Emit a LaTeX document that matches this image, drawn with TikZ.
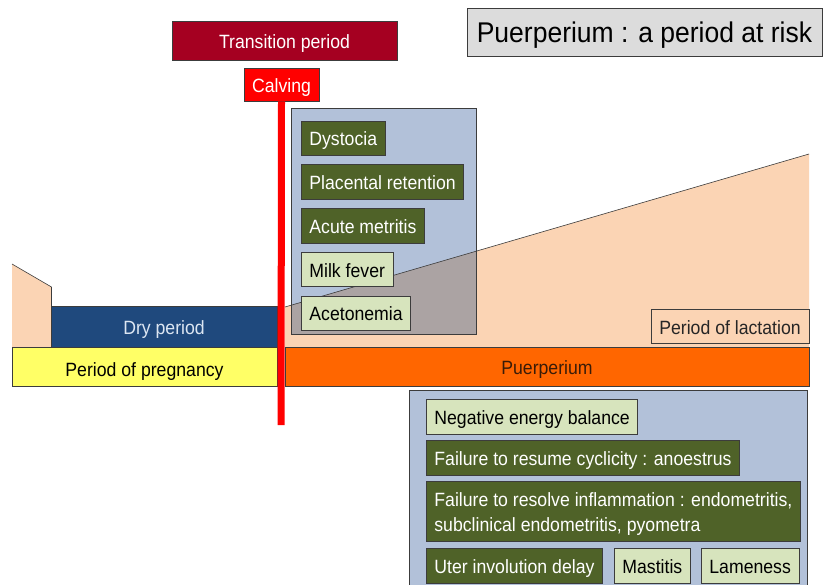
\documentclass[tikz,border=0pt]{standalone}
\usepackage{fontspec}
\setmainfont{Liberation Sans}[FakeStretch=0.92]
\newfontfamily\titlefont{Liberation Sans}[FakeStretch=0.93]
\usetikzlibrary{positioning}

\definecolor{transred}{HTML}{A50021}
\definecolor{calvred}{HTML}{FF0000}
\definecolor{titlegray}{HTML}{DCDCDC}
\definecolor{edgegray}{HTML}{3C3C3C}
\definecolor{riskblue}{HTML}{B2C1D9}
\definecolor{overlapgray}{HTML}{ABA3A3}
\definecolor{peach}{HTML}{FBD4B4}
\definecolor{drynavy}{HTML}{1F497D}
\definecolor{drytext}{HTML}{DCE6F2}
\definecolor{pregyellow}{HTML}{FFFF66}
\definecolor{puerorange}{HTML}{FF6600}
\definecolor{puertext}{HTML}{3A1C08}
\definecolor{darkolive}{HTML}{4F6228}
\definecolor{lightolive}{HTML}{D7E4BD}

\tikzset{
  band/.style={draw=edgegray, line width=0.8pt, inner sep=0pt, text height=15pt, text depth=0pt},
  riskdark/.style={draw=edgegray, line width=0.8pt, fill=darkolive, text=white,
    anchor=north west, minimum height=34.5pt, inner xsep=8pt, inner ysep=0pt,
    text height=15pt, text depth=0pt},
  risklight/.style={riskdark, fill=lightolive, text=black},
  panel/.style={draw=edgegray, line width=0.8pt, fill=riskblue}
}

\begin{document}
\begin{tikzpicture}[x=1pt, y=-1pt, font=\fontsize{19.2}{19}\selectfont]
\clip (0,0) rectangle (824,584);
\fill[white] (0,0) rectangle (824,584);

\coordinate (lacstart) at (285,307);
\coordinate (lacend) at (809,154);

\fill[peach] (12,264) -- (51.5,287) -- (51.5,347) -- (12,347) -- cycle;
\draw[edgegray, line width=0.6pt] (12,264) -- (51.5,287) -- (51.5,347);
\fill[peach] (lacstart) -- (lacend) -- (809,347) -- (285,347) -- cycle;
\draw[edgegray, line width=0.6pt] (lacstart) -- (lacend);

\draw[panel] (291.5,108.5) rectangle (476,334);
\begin{scope}
\clip (291.5,108.5) rectangle (476,334);
\fill[overlapgray] (lacstart) -- (lacend) -- (809,347) -- (285,347) -- cycle;
\draw[edgegray, line width=0.6pt] (lacstart) -- (lacend);
\end{scope}
\draw[edgegray, line width=0.8pt] (291.5,108.5) rectangle (476,334);

\node[riskdark] (dysto) at (301,120.5) {Dystocia};
\node[riskdark, below=8.5pt of dysto.south west, anchor=north west] (placenta) {Placental retention};
\node[riskdark, below=8.5pt of placenta.south west, anchor=north west] (metritis) {Acute metritis};
\node[risklight, below=8.5pt of metritis.south west, anchor=north west] (milk) {Milk fever};
\node[risklight, below=8.5pt of milk.south west, anchor=north west] (aceto) {Acetonemia};

\node[band, fill=transred, text=white, minimum width=225pt, minimum height=39pt] (trans) at (284.5,40.5) {Transition period};
\node[band, fill=calvred, text=white, minimum width=75pt, minimum height=33pt, text height=16pt] (calving) at (281.5,84.5) {Calving};
\node[band, fill=titlegray, text=black, minimum width=355pt, minimum height=48pt, text height=20pt,
  font=\titlefont\fontsize{28.5}{30}\selectfont] (title) at (644.5,32) {Puerperium : a period at risk};

\node[band, fill=drynavy, text=drytext, minimum width=226pt, minimum height=40.5pt] (dry) at (164,326.75) {Dry period};
\node[band, fill=pregyellow, text=black, minimum width=265pt, minimum height=39pt, text height=19pt] (preg) at (144.5,366.5) {Period of pregnancy};
\node[band, fill=puerorange, text=puertext, minimum width=524pt, minimum height=39pt] (puer) at (547,366.5) {Puerperium};
\node[band, fill=peach, text=black!85, minimum width=158pt, minimum height=34pt, text height=16pt] (lact) at (730,326) {Period of lactation};

\coordinate (lineend) at (281,425);
\draw[calvred, line width=7pt] (calving.south) -- (lineend);

\draw[panel] (409,390.5) rectangle (807,600);
\node[risklight] (energy) at (426,399) {Negative energy balance};
\node[riskdark, below=6pt of energy.south west, anchor=north west] (cyclic) {Failure to resume cyclicity : anoestrus};
\node[riskdark, below=5pt of cyclic.south west, anchor=north west, minimum height=60pt, align=left,
  text height=, text depth=, font=\fontsize{19.2}{25}\selectfont] (inflam)
  {\rule{0pt}{20pt}Failure to resolve inflammation : endometritis,\\subclinical endometritis, pyometra};
\node[riskdark, below=7pt of inflam.south west, anchor=north west] (uter) {Uter involution delay};
\node[risklight] (mastitis) at (614,548) {Mastitis};
\node[risklight] (lame) at (701,548) {Lameness};
\end{tikzpicture}
\end{document}
